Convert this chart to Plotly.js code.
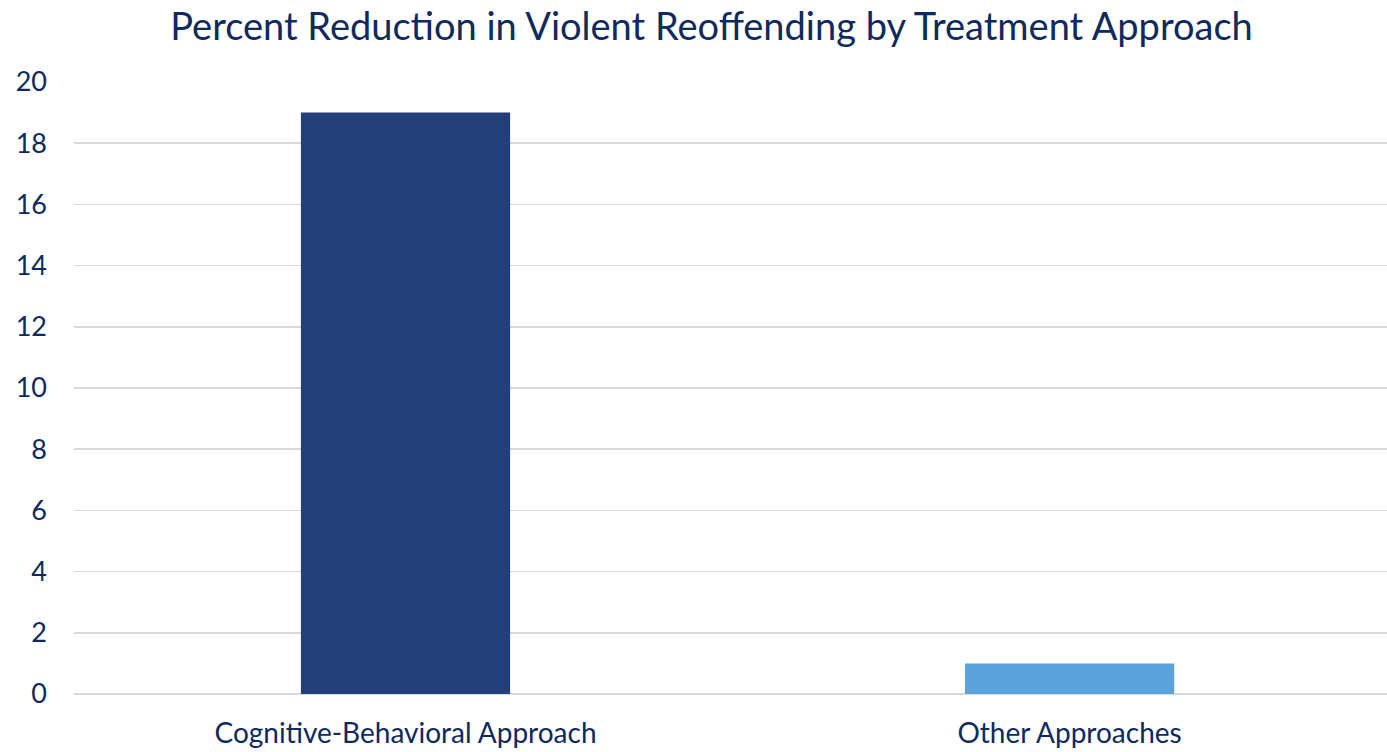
<!DOCTYPE html>
<html><head><meta charset="utf-8">
<script src="https://cdn.plot.ly/plotly-3.0.1.min.js"></script>
<style>html,body{margin:0;padding:0;background:#fff}#chart{width:1387px;height:752px}</style>
</head><body><div id="chart"></div>
<script>
const categories = ["Cognitive-Behavioral Approach", "Other Approaches"];
const values = [19, 1];
const barColors = ["#223F7A", "#5BA3DC"];
const yTicks = [0, 2, 4, 6, 8, 10, 12, 14, 16, 18, 20];
const titleText = "Percent Reduction in Violent Reoffending by Treatment Approach";

const textColor = "#0E2A5F";
const fontFam = "Lato, 'Open Sans', sans-serif";

Plotly.newPlot("chart", [{
  type: "bar",
  x: categories,
  y: values,
  width: 0.315,
  marker: {color: barColors, line: {width: 0}},
  hoverinfo: "x+y"
}], {
  width: 1387, height: 752,
  margin: {l: 74, r: 0, t: 82, b: 58},
  paper_bgcolor: "#fff", plot_bgcolor: "#fff",
  title: {text: titleText, x: 0.513, xref: "container", xanchor: "center", y: 0.964, yanchor: "middle",
          font: {family: fontFam, size: 38, color: textColor}},
  xaxis: {range: [-0.4992, 1.478], showgrid: false, zeroline: false, showline: false, ticks: "",
          tickfont: {family: fontFam, size: 28, color: textColor}, ticklabelstandoff: 20},
  yaxis: {range: [0, 20], tickvals: yTicks, showgrid: true, gridcolor: "#D9D9D9", gridwidth: 1.5,
          zeroline: true, zerolinecolor: "#D9D9D9", zerolinewidth: 1.5, showline: false, ticks: "",
          tickfont: {family: fontFam, size: 27, color: textColor}, ticklabelstandoff: 26},
  showlegend: false,
  bargap: 0.685
}, {displayModeBar: false, staticPlot: true});
</script></body></html>
